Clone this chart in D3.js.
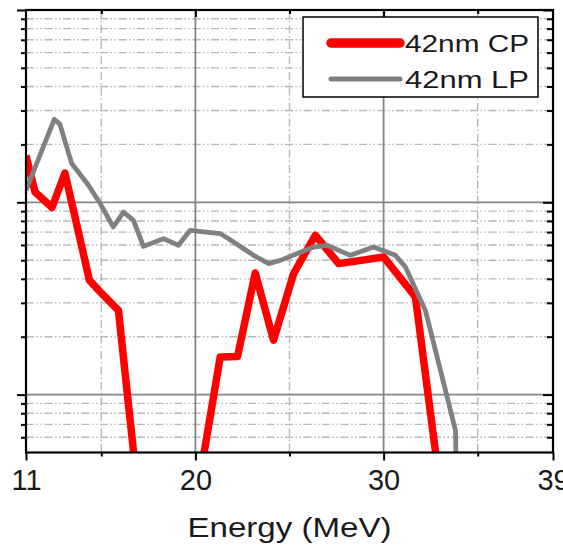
<!DOCTYPE html>
<html>
<head>
<meta charset="utf-8">
<script src="https://cdn.jsdelivr.net/npm/d3@7"></script>
<style>
  html, body { margin: 0; padding: 0; background: #fff; }
  svg { display: block; }
  text { font-family: "Liberation Sans", Arial, sans-serif; fill: #1a1a1a; }
</style>
</head>
<body>
<svg id="chart" width="563" height="551"></svg>
<script>
// Spectra (relative yield on a log scale) versus energy in MeV
const energyCP = [11.0, 11.48, 12.38, 13.07, 14.37, 14.94, 15.91, 16.8, 18.5, 20.26, 21.32, 22.24, 23.18, 24.15, 25.22, 26.37, 27.61, 30.01, 31.69, 33.02];
const yieldCP  = [17.5, 11.3, 9.4, 14.2, 3.93, 3.42, 2.74, 0.42, 0.3, 0.38, 1.57, 1.58, 4.29, 1.92, 4.26, 6.74, 4.80, 5.19, 3.22, 0.32];

const energyLP = [11.0, 12.5, 12.8, 13.43, 14.31, 14.94, 15.64, 16.18, 16.71, 17.24, 18.30, 19.10, 19.72, 21.32, 22.03, 23.09, 23.89, 24.51, 26.28, 27.0, 28.23, 29.47, 30.63, 31.16, 32.22, 33.29, 33.82, 33.86];
const yieldLP  = [11.55, 27.0, 25.5, 15.9, 12.3, 9.85, 7.44, 8.9, 8.06, 5.9, 6.47, 5.98, 7.15, 6.88, 6.22, 5.3, 4.8, 4.99, 5.85, 5.98, 5.3, 5.85, 5.3, 4.61, 2.74, 1.05, 0.65, 0.40];

const seriesNames = ["42nm CP", "42nm LP"];
const seriesColors = ["#ff0000", "#808080"];

const xTickLabels = [11, 20, 30, 39];
const xMajorGrid = [20, 30];
const xMinorGrid = [15, 25, 35];
const yMajor = [1, 10, 100];
const yMinor = [0.6, 0.7, 0.8, 0.9, 2, 3, 4, 5, 6, 7, 8, 9, 20, 30, 40, 50, 60, 70, 80, 90];

const svg = d3.select("#chart");
const plot = { left: 26, right: 553, top: 10, bottom: 452.5 };

const x = d3.scaleLinear().domain([11, 39]).range([plot.left, plot.right]);
const y = d3.scaleLog().domain([0.5, 100]).range([plot.bottom, plot.top]);

// grid: minor (dash-dot-dot) then major (solid)
const grid = svg.append("g");
const minorDash = "8,2.5,1.5,2.5,1.5,2.5";
grid.selectAll(".hminor").data(yMinor).join("line")
  .attr("x1", plot.left).attr("x2", plot.right)
  .attr("y1", d => y(d)).attr("y2", d => y(d))
  .attr("stroke", "#b8b8b8").attr("stroke-width", 1.4).attr("stroke-dasharray", minorDash);
grid.selectAll(".vminor").data(xMinorGrid).join("line")
  .attr("y1", plot.top).attr("y2", plot.bottom)
  .attr("x1", d => x(d)).attr("x2", d => x(d))
  .attr("stroke", "#b8b8b8").attr("stroke-width", 1.4).attr("stroke-dasharray", "8,3,1.5,3");
grid.selectAll(".hmajor").data(yMajor.filter(d => d < 100)).join("line")
  .attr("x1", plot.left).attr("x2", plot.right)
  .attr("y1", d => y(d)).attr("y2", d => y(d))
  .attr("stroke", "#858585").attr("stroke-width", 1.8);
grid.selectAll(".vmajor").data(xMajorGrid).join("line")
  .attr("y1", plot.top).attr("y2", plot.bottom)
  .attr("x1", d => x(d)).attr("x2", d => x(d))
  .attr("stroke", "#858585").attr("stroke-width", 1.8);

// data lines, clipped to the plotting frame
svg.append("clipPath").attr("id", "frame").append("rect")
  .attr("x", plot.left).attr("y", plot.top)
  .attr("width", plot.right - plot.left).attr("height", plot.bottom - plot.top);

const line = d3.line().x(d => x(d[0])).y(d => y(d[1]));
const lines = svg.append("g").attr("clip-path", "url(#frame)");
lines.append("path")
  .attr("d", line(d3.zip(energyCP, yieldCP)))
  .attr("fill", "none").attr("stroke", seriesColors[0])
  .attr("stroke-width", 7.5).attr("stroke-linejoin", "round");
lines.append("path")
  .attr("d", line(d3.zip(energyLP, yieldLP)))
  .attr("fill", "none").attr("stroke", seriesColors[1])
  .attr("stroke-width", 4.8).attr("stroke-linejoin", "round");

// axes
function styleAxis(g) {
  g.select(".domain").remove();
  g.selectAll(".tick line").attr("stroke", "#000").attr("stroke-width", 2);
}
const xMinorTicks = [15, 25, 35];
svg.append("g").attr("transform", `translate(0,${plot.bottom})`)
  .call(d3.axisBottom(x).tickValues(xMinorTicks).tickSize(4).tickFormat(""))
  .call(styleAxis);
const xb = svg.append("g").attr("transform", `translate(0,${plot.bottom})`)
  .call(d3.axisBottom(x).tickValues(xTickLabels).tickSize(8).tickFormat(d3.format("d")))
  .call(styleAxis);
xb.selectAll(".tick text").attr("y", 37.5).attr("dy", null)
  .attr("font-size", 29).attr("fill", "#1a1a1a")
  .style("font-family", '"Liberation Sans", Arial, sans-serif');

svg.append("g").attr("transform", `translate(0,${plot.top})`)
  .call(d3.axisBottom(x).tickValues(xMinorTicks).tickSize(4).tickFormat(""))
  .call(styleAxis);
svg.append("g").attr("transform", `translate(0,${plot.top})`)
  .call(d3.axisBottom(x).tickValues([20, 30]).tickSize(7).tickFormat(""))
  .call(styleAxis);

svg.append("g").attr("transform", `translate(${plot.left},0)`)
  .call(d3.axisLeft(y).tickValues(yMinor).tickSize(5).tickFormat(""))
  .call(styleAxis);
svg.append("g").attr("transform", `translate(${plot.left},0)`)
  .call(d3.axisLeft(y).tickValues(yMajor).tickSize(9).tickFormat(""))
  .call(styleAxis);
svg.append("g").attr("transform", `translate(${plot.right},0)`)
  .call(d3.axisLeft(y).tickValues(yMinor).tickSize(6).tickFormat(""))
  .call(styleAxis);
svg.append("g").attr("transform", `translate(${plot.right},0)`)
  .call(d3.axisLeft(y).tickValues(yMajor).tickSize(10).tickFormat(""))
  .call(styleAxis);

// frame
svg.append("rect")
  .attr("x", plot.left).attr("y", plot.top)
  .attr("width", plot.right - plot.left).attr("height", plot.bottom - plot.top)
  .attr("fill", "none").attr("stroke", "#000").attr("stroke-width", 2.2);

// axis title
svg.append("text")
  .attr("x", (plot.left + plot.right) / 2).attr("y", 537)
  .attr("text-anchor", "middle").attr("font-size", 28)
  .attr("textLength", 204).attr("lengthAdjust", "spacingAndGlyphs")
  .text("Energy (MeV)");

// legend
const lg = svg.append("g");
lg.append("rect").attr("x", 303).attr("y", 17).attr("width", 235).attr("height", 80)
  .attr("fill", "#fff").attr("stroke", "#000").attr("stroke-width", 1.5);
const legendRows = [
  { name: seriesNames[0], color: seriesColors[0], width: 9.5, yy: 43 },
  { name: seriesNames[1], color: seriesColors[1], width: 5, yy: 79 }
];
legendRows.forEach(r => {
  lg.append("line").attr("x1", 331).attr("x2", 400).attr("y1", r.yy).attr("y2", r.yy)
    .attr("stroke", r.color).attr("stroke-width", r.width).attr("stroke-linecap", "round");
  lg.append("text").attr("x", 405).attr("y", r.yy + 8.5)
    .attr("font-size", 23).attr("textLength", 124).attr("lengthAdjust", "spacingAndGlyphs")
    .text(r.name);
});
</script>
</body>
</html>
